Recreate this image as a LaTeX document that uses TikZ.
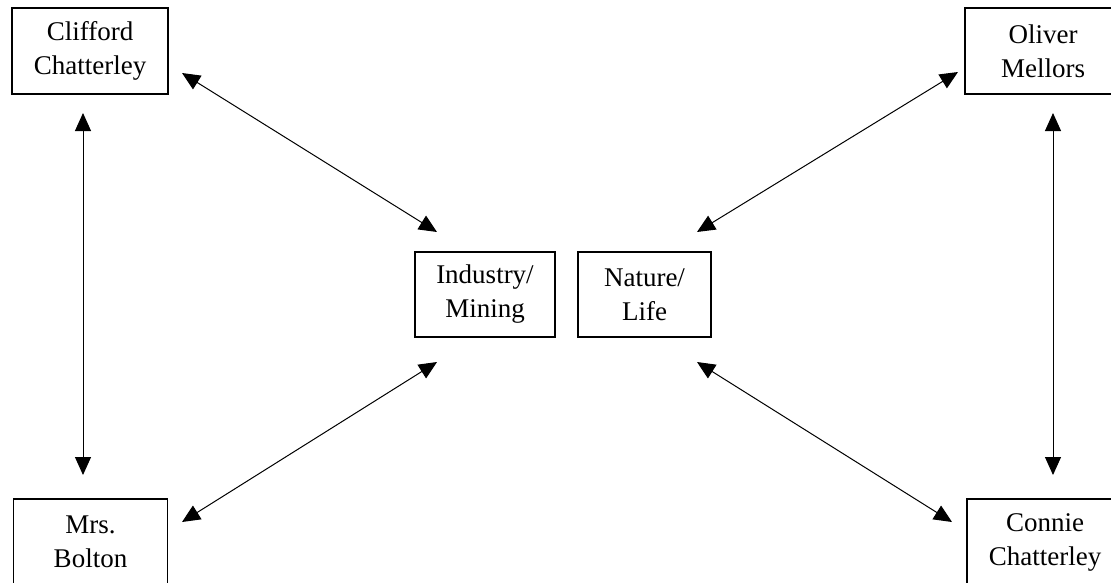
\documentclass[tikz,border=0pt]{standalone}
\usepackage{fontspec}
\setmainfont{Liberation Serif}
\usetikzlibrary{arrows.meta}
\begin{document}
\begin{tikzpicture}[x=1pt,y=-1pt,
  person/.style={draw, line width=1.5pt, inner sep=0pt, align=center,
    font=\fontsize{27}{34}\selectfont},
  link/.style={line width=1pt, {Triangle[length=18pt,width=16pt]}-{Triangle[length=18pt,width=16pt]}}]
\useasboundingbox (0,0) rectangle (1111,582);
\clip (0,0) rectangle (1111,582);
% character boxes
\node[person, minimum width=156pt, minimum height=86pt] (cliff) at (90,51) {Clifford\\Chatterley};
\node[person, minimum width=156pt, minimum height=86pt] (oliver) at (1043,51) {Oliver\\Mellors};
\node[person, minimum width=154pt, minimum height=86pt] (bolton) at (90.5,542) {Mrs.\\Bolton};
\node[person, minimum width=156pt, minimum height=86pt] (connie) at (1045,542) {Connie\\Chatterley};
% themes in the middle
\node[person, minimum width=140pt, minimum height=85pt] (industry) at (485,294.5) {Industry/\\Mining};
\node[person, minimum width=133pt, minimum height=85pt] (nature) at (644.5,294.5) {Nature/\\Life};
% arrow end points in the gaps around the boxes
\coordinate (cliffA) at (182,73);
\coordinate (industryA) at (437,232);
\coordinate (oliverA) at (958,72);
\coordinate (natureA) at (697,232);
\coordinate (boltonA) at (182,522);
\coordinate (industryB) at (437,362);
\coordinate (connieA) at (952,522);
\coordinate (natureB) at (697,362);
\coordinate (cliffB) at (83,113);
\coordinate (boltonB) at (83,475);
\coordinate (oliverB) at (1053,113);
\coordinate (connieB) at (1053,475);
% connectors
\draw[link] (cliffA) -- (industryA);
\draw[link] (oliverA) -- (natureA);
\draw[link] (boltonA) -- (industryB);
\draw[link] (connieA) -- (natureB);
\draw[link] (cliffB) -- (boltonB);
\draw[link] (oliverB) -- (connieB);
\end{tikzpicture}
\end{document}
